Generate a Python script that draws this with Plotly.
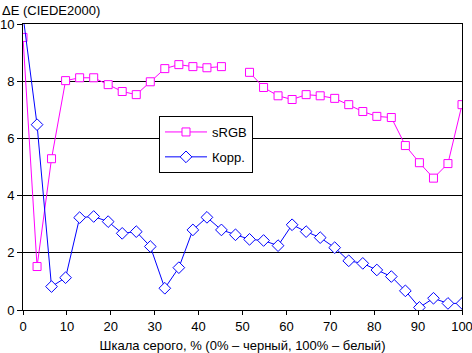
import plotly.graph_objects as go

x_vals = [0, 3.2, 6.5, 9.7, 12.9, 16.1, 19.4, 22.6, 25.8, 29.0, 32.3, 35.5, 38.7, 41.9, 45.2, 48.4,
          51.6, 54.8, 58.1, 61.3, 64.5, 67.7, 71.0, 74.2, 77.4, 80.6, 83.9, 87.1, 90.3, 93.5, 96.8, 100]
srgb = [9.53, 1.52, 5.29, 8.02, 8.12, 8.12, 7.88, 7.64, 7.53, 7.98, 8.44, 8.58, 8.51, 8.47, 8.51, None,
        8.31, 7.78, 7.49, 7.36, 7.53, 7.49, 7.40, 7.18, 6.94, 6.77, 6.73, 5.75, 5.15, 4.61, 5.12, 7.18]
korr = [10.3, 6.48, 0.82, 1.13, 3.23, 3.27, 3.09, 2.68, 2.74, 2.22, 0.76, 1.48, 2.80, 3.24, 2.80, 2.63,
        2.47, 2.43, 2.25, 2.98, 2.74, 2.53, 2.18, 1.72, 1.63, 1.40, 1.17, 0.67, 0.09, 0.41, 0.23, 0.23]
series_names = ["sRGB", "Корр."]
x_ticks = [0, 10, 20, 30, 40, 50, 60, 70, 80, 90, 100]
y_ticks = [0, 2, 4, 6, 8, 10]

FONT = "Liberation Sans"

fig = go.Figure()
fig.add_trace(go.Scatter(
    x=x_vals, y=srgb, name=series_names[0], mode="lines+markers", connectgaps=False,
    legendgroup="a",
    line=dict(color="#FF00FF", width=1),
    marker=dict(symbol="square", size=8, color="white", line=dict(color="#FF00FF", width=1)),
))
fig.add_trace(go.Scatter(
    x=x_vals, y=korr, name=series_names[1], mode="lines+markers",
    legendgroup="b",
    line=dict(color="#0000FF", width=1),
    marker=dict(symbol="diamond", size=9, color="white", line=dict(color="#0000FF", width=1)),
))

fig.update_layout(
    width=472, height=353,
    margin=dict(l=23, r=10, t=24, b=43, autoexpand=False),
    paper_bgcolor="white", plot_bgcolor="white",
    font=dict(family=FONT, size=13, color="black"),
    showlegend=True,
    legend=dict(x=(159 - 23) / 439, y=(310 - 116) / 286, xanchor="left", yanchor="top",
                bordercolor="black", borderwidth=1, bgcolor="white",
                font=dict(family=FONT, size=13), itemwidth=42,
                tracegroupgap=5),
    xaxis=dict(range=[0, 100], tickvals=x_ticks, showgrid=False, zeroline=False, automargin=False,
               showline=True, linecolor="black", linewidth=1, mirror=True,
               ticks="outside", ticklen=4, tickcolor="black", ticklabeloverflow="allow",
               title=dict(text="Шкала серого, % (0% – черный, 100% – белый)",
                          font=dict(family=FONT, size=13), standoff=10)),
    yaxis=dict(range=[0, 10], tickvals=y_ticks, showgrid=True, gridcolor="black", gridwidth=1,
               zeroline=False, showline=True, linecolor="black", linewidth=1, mirror=True,
               automargin=False, ticklabeloverflow="allow",
               ticks="outside", ticklen=5, tickcolor="black"),
    annotations=[dict(text="ΔE (CIEDE2000)", xref="paper", yref="paper", x=-23/439, y=1.0,
                      xanchor="left", yanchor="bottom", yshift=4, showarrow=False,
                      font=dict(family=FONT, size=13))],
)

fig.write_html("out.html")
